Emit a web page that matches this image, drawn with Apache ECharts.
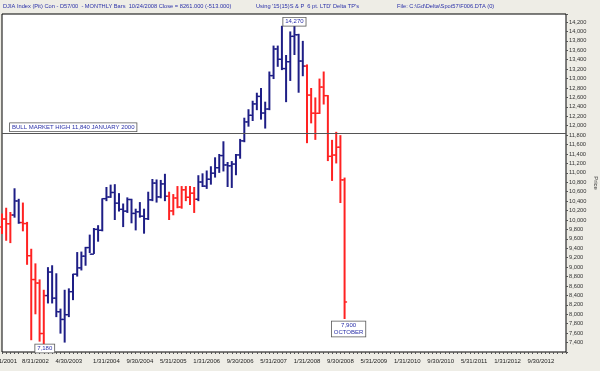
<!DOCTYPE html>
<html><head><meta charset="utf-8">
<script src="https://cdn.jsdelivr.net/npm/echarts@6/dist/echarts.min.js"></script>
<style>html,body{margin:0;padding:0;background:#eeede6;}#c{width:600px;height:371px;}</style>
</head><body><div id="c"></div>
<script>
// Monthly bars Dec 2001 .. Oct 2008
const opens = [9852,10021,9920,10106,10404,9946,9925,9243,8737,8663,7592,8397,8896,8342,8054,7891,7992,8480,8850,8985,9233,9415,9275,9801,9782,10453,10488,10584,10357,10226,10188,10435,10140,10174,10080,10027,10428,10783,10490,10766,10504,10193,10467,10275,10641,10482,10569,10440,10806,10718,10865,10993,11109,11367,11168,11150,11186,11381,11679,12081,12221,12463,12622,12269,12354,13063,13628,13409,13212,13358,13896,13930,13372,13265,12650,12266,12263,12820,12638,11350,11378,11544,10851];
const highs = [10137,10260,10170,10673,10450,10370,9960,9390,9080,8740,8520,9000,9040,8870,8120,8520,8550,8860,9320,9330,9430,9690,9830,9890,10460,10700,10750,10760,10570,10350,10480,10450,10240,10380,10240,10600,10870,10860,10850,10980,10600,10550,10720,10720,10720,10720,10700,10950,10990,11050,11140,11330,11400,11670,11230,11250,11400,11720,12170,12350,12530,12700,12800,12510,13150,13700,13700,14120,13500,14000,14270,13950,13800,13300,12800,12600,13000,13150,12650,11700,11870,11800,10900];
const lows = [9704,9560,9510,10050,9920,9760,9050,7450,8000,7420,7180,8230,8230,7940,7590,7400,7940,8300,8800,8930,9030,9300,9280,9540,9760,10400,10470,10000,10180,9850,10150,9930,9780,10050,9710,10000,10400,10370,10460,10400,10000,10100,10250,10240,10400,10320,10150,10400,10700,10660,10750,10900,11000,11030,10700,10680,10950,11300,11650,11980,12100,12330,12130,11940,12330,12990,13250,13180,12500,12950,13500,12700,13050,11630,12050,11700,12250,12450,11250,10830,11200,10360,7900];
const closes = [10021,9920,10106,10404,9946,9925,9243,8737,8663,7592,8397,8896,8342,8054,7891,7992,8480,8850,8985,9233,9415,9275,9801,9782,10453,10488,10584,10357,10226,10188,10435,10140,10174,10080,10027,10428,10783,10490,10766,10504,10193,10467,10275,10641,10482,10569,10440,10806,10718,10865,10993,11109,11367,11168,11150,11186,11381,11679,12081,12221,12463,12622,12269,12354,13063,13628,13409,13212,13358,13896,13930,13372,13265,12650,12266,12263,12820,12638,11350,11378,11544,10851,8261];
// Delta signal per bar: D = down phase (red), U = up phase (blue)
const signal = ('DDDUUDDDDDD' + 'UUUUUUUUUUUUUUUUUUUUUUUUUUUUU' + 'DDDDDDD' + 'UUUUUUUUUUUUUUUUUUUUUUUUUU' + 'DDDDDDDDDD').split('');
const xTickLabels = ['12/31/2001','8/31/2002','4/30/2003','1/31/2004','9/30/2004','5/31/2005','1/31/2006','9/30/2006','5/31/2007','1/31/2008','9/30/2008','5/31/2009','1/31/2010','9/30/2010','5/31/2011','1/31/2012','9/30/2012'];
const bullHigh = 11840;
const yMin = 7200, yMax = 14370;
const titleText = 'DJIA Index (Pit) Con - D57/00  - MONTHLY Bars  10/24/2008 Close = 8261.000 (-513.000)';
const usingText = "Using '15(15)S & P  6 pt. LTD' Delta TP's";
const fileText = 'File: C:\\Gd\\Delta\\Spot57\\F006.DTA (0)';

// month-end category labels Dec 2001 .. Mar 2013
const months = [];
for (let k = 0; k < 136; k++) {
  const y = 2001 + Math.floor((11 + k) / 12), m = (11 + k) % 12;
  const d = new Date(y, m + 1, 0).getDate();
  months.push((m + 1) + '/' + d + '/' + y);
}

const BLUE = '#1e1e86', RED = '#ff2222', TXT = '#2a30a8';
const boxLabel = {show:true, color:TXT, fontSize:6, lineHeight:7, backgroundColor:'#fff', borderColor:'#555', borderWidth:0.8, padding:[1,2,0,2]};
const fmt = v => v.toLocaleString('en-US');

const chart = echarts.init(document.getElementById('c'), null, {renderer:'canvas'});
chart.setOption({
  animation:false,
  textStyle:{fontFamily:'Liberation Sans, Arial, sans-serif'},
  title:[
    {text:titleText, left:3, top:3, padding:0, textStyle:{fontSize:5.7, fontWeight:'normal', color:TXT}},
    {text:usingText, left:256, top:3, padding:0, textStyle:{fontSize:5.7, fontWeight:'normal', color:TXT}},
    {text:fileText, left:397, top:3, padding:0, textStyle:{fontSize:5.7, fontWeight:'normal', color:TXT}}
  ],
  grid:{left:2, right:34, top:14, bottom:19, outerBoundsMode:'none', containLabel:false,
    show:true, backgroundColor:'#fff', borderColor:'#000', borderWidth:1},
  xAxis:{type:'category', data:months, boundaryGap:false,
    axisLine:{show:false},
    axisTick:{show:true, interval:0, length:2, lineStyle:{color:'#555'}},
    axisLabel:{interval:(i, v) => xTickLabels.includes(v), fontSize:6, color:'#222', margin:6},
    splitLine:{show:false}},
  yAxis:{type:'value', position:'right', min:yMin, max:yMax, interval:200,
    axisLine:{show:false},
    axisTick:{show:true, length:2, lineStyle:{color:'#555'}},
    minorTick:{show:true, splitNumber:4, length:1, lineStyle:{color:'#777'}},
    splitLine:{show:false},
    axisLabel:{fontSize:5.7, color:'#333', margin:3,
      formatter:v => (v % 200 === 0 && v > 7300 && v < 14300) ? fmt(v) : ''},
    name:'Price', nameLocation:'middle', nameRotate:-90, nameGap:27, nameMoveOverlap:false,
    nameTextStyle:{fontSize:6, color:'#333'}},
  series:[{
    type:'custom',
    data: opens.map((o, i) => [i, o, highs[i], lows[i], closes[i]]),
    encode:{x:0, y:[1,2,3,4]},
    clip:false,
    renderItem:(params, api) => {
      const i = api.value(0);
      const o = api.coord([i, api.value(1)]);
      const h = api.coord([i, api.value(2)]);
      const l = api.coord([i, api.value(3)]);
      const c = api.coord([i, api.value(4)]);
      const col = signal[params.dataIndex] === 'D' ? RED : BLUE;
      const x = h[0];
      return {type:'group', children:[
        {type:'line', shape:{x1:x, y1:h[1], x2:x, y2:l[1]}, style:{stroke:col, lineWidth:2}},
        {type:'line', shape:{x1:x-2.5, y1:o[1], x2:x, y2:o[1]}, style:{stroke:col, lineWidth:1.4}},
        {type:'line', shape:{x1:x, y1:c[1], x2:x+2.5, y2:c[1]}, style:{stroke:col, lineWidth:1.4}}
      ]};
    },
    markLine:{silent:true, symbol:['none','none'], label:{show:false},
      lineStyle:{color:'#555', width:1, type:'solid'},
      data:[{yAxis:bullHigh}]},
    markPoint:{silent:true, symbol:'rect', symbolSize:0,
      data:[
        {coord:[months[70], highs[70]], label:Object.assign({}, boxLabel, {position:'inside', offset:[0,3], formatter:fmt(highs[70])})},
        {coord:[months[10], Math.max(lows[10], yMin)], label:Object.assign({}, boxLabel, {position:'inside', offset:[1,-3.5], formatter:fmt(lows[10])})},
        {coord:[months[82], lows[82]], label:Object.assign({}, boxLabel, {position:'inside', offset:[4,10], align:'center', formatter:fmt(lows[82]) + '\nOCTOBER'})},
        {coord:[months[0], bullHigh], label:Object.assign({}, boxLabel, {position:'right', distance:0, offset:[8,-6], formatter:'BULL MARKET HIGH ' + fmt(bullHigh) + ' JANUARY 2000'})}
      ]}
  }]
});
</script></body></html>
